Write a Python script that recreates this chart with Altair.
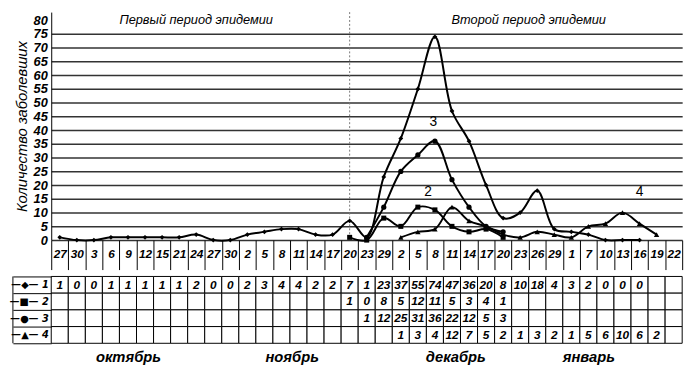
import json
import altair as alt
import pandas as pd

# ---------------- data ----------------
dates = ["27", "30", "3", "6", "9", "12", "15", "21", "24", "27", "30",
         "2", "5", "8", "11", "14", "17", "20", "23", "29",
         "2", "5", "8", "11", "14", "17", "20", "23", "26", "29",
         "1", "7", "10", "13", "16", "19", "22"]
series_names = ["1", "2", "3", "4"]
s1 = [1, 0, 0, 1, 1, 1, 1, 1, 2, 0, 0,
      2, 3, 4, 4, 2, 2, 7, 1, 23,
      37, 55, 74, 47, 36, 20, 8, 10, 18, 4,
      3, 2, 0, 0, 0, None, None]
s2 = [None] * 17 + [1, 0, 8, 5, 12, 11, 5, 3, 4, 1] + [None] * 10
s3 = [None] * 18 + [1, 12, 25, 31, 36, 22, 12, 5, 3] + [None] * 10
s4 = [None] * 20 + [1, 3, 4, 12, 7, 5, 2, 1, 3, 2, 1, 5, 6, 10, 6, 2] + [None]
row_symbols = ["—◆— 1", "—■— 2", "—●— 3", "—▲— 4"]
months = ["октябрь", "ноябрь", "декабрь", "январь"]
month_cols = [4.0, 13.6, 23.2, 31.0]
periods = ["Первый период эпидемии", "Второй период эпидемии"]
period_cols = [8.0, 27.5]
period_split_col = 17
curve_labels = ["3", "2", "4"]
curve_label_cols = [21.9, 21.6, 34.0]
curve_label_vals = [43, 17.5, 17.5]

# ---------------- layout / style ----------------
FONT = "Liberation Sans"
N = len(dates)
W = 642
H_PLOT = 232
H_DATE = 30
H_TABLE = 68
LABEL_COL = 39
step = W / N
series = [s1, s2, s3, s4]

pts = pd.DataFrame([
    {"i": i, "v": v, "s": name}
    for name, s in zip(series_names, series)
    for i, v in enumerate(s) if v is not None
])
cells = pd.DataFrame([
    {"i": i, "row": name, "txt": "" if v is None else str(v)}
    for name, s in zip(series_names, series)
    for i, v in enumerate(s)
])
period_df = pd.DataFrame({"i": period_cols, "v": [80, 80], "txt": periods})
curve_df = pd.DataFrame({"i": curve_label_cols, "v": curve_label_vals, "txt": curve_labels})
split_df = pd.DataFrame({"i": [period_split_col]})

xs = alt.Scale(domain=[-0.5, N - 0.5], nice=False, zero=False)

x_date_axis = alt.Axis(
    values=[i - 0.5 for i in range(N + 1)],
    labelExpr=f"{json.dumps(dates)}[datum.value + 0.5] || ''",
    tickSize=H_DATE, tickColor="black", tickWidth=1,
    labelOffset=step / 2, labelPadding=-21,
    domain=False, grid=False, labelAngle=0,
    labelFont=FONT, labelFontSize=12, labelFontWeight="bold", labelFontStyle="italic",
    labelColor="black", labelFlush=False, labelOverlap=False, title=None,
)
y_axis = alt.Axis(
    values=list(range(0, 81, 5)), grid=True, gridColor="#333", gridWidth=1.5,
    gridOpacity=alt.condition("datum.value >= 80", alt.value(0), alt.value(1)),
    ticks=False, domain=True, domainColor="black", domainWidth=1,
    labelFont=FONT, labelFontSize=13, labelFontWeight="bold", labelFontStyle="italic",
    labelColor="black", labelPadding=4, labelOverlap=False,
    title="Количество заболевших", titleFont=FONT, titleFontSize=15,
    titleFontStyle="italic", titleFontWeight="normal", titleColor="black",
    titlePadding=2, minExtent=20, maxExtent=20,
)
X = alt.X("i:Q", scale=xs, axis=x_date_axis)
Y = alt.Y("v:Q", scale=alt.Scale(domain=[0, 83], nice=False), axis=y_axis)

spacer = alt.Chart(split_df).mark_rule(color="white").encode(x=alt.value(-LABEL_COL))
split = alt.Chart(split_df).mark_rule(color="#777", strokeWidth=1, strokeDash=[2, 2]).encode(x=X)
lines = alt.Chart(pts).mark_line(interpolate="catmull-rom", color="black", strokeWidth=2).encode(
    x=X, y=Y, detail="s:N")
points = alt.Chart(pts).mark_point(filled=True, color="black", opacity=1).encode(
    x=X, y=Y,
    shape=alt.Shape("s:N", scale=alt.Scale(domain=series_names,
                                           range=["diamond", "square", "circle", "triangle-up"]),
                    legend=None),
    size=alt.Size("s:N", scale=alt.Scale(domain=series_names, range=[24, 30, 32, 36]), legend=None),
)
period_text = alt.Chart(period_df).mark_text(
    font=FONT, fontSize=13, fontStyle="italic", color="black", baseline="middle").encode(
    x=X, y=Y, text="txt:N")
curve_text = alt.Chart(curve_df).mark_text(
    font=FONT, fontSize=14, color="black", baseline="middle").encode(
    x=X, y=Y, text="txt:N")

top = alt.layer(spacer, split, lines, points, period_text, curve_text).properties(
    width=W, height=H_PLOT)

# ---------------- table ----------------
month_axis = alt.Axis(
    values=month_cols,
    labelExpr=f"{json.dumps(months, ensure_ascii=False)}[indexof({json.dumps(month_cols)}, datum.value)]",
    ticks=False, domain=False, grid=False, labelPadding=7, labelAngle=0,
    labelFont=FONT, labelFontSize=15, labelFontWeight="bold", labelFontStyle="italic",
    labelColor="black", labelFlush=False, labelOverlap=False, title=None,
)
row_map = json.dumps(dict(zip(series_names, row_symbols)), ensure_ascii=False)
row_axis = alt.Axis(
    ticks=True, tickBand="extent", tickSize=LABEL_COL, tickColor="black", tickWidth=1,
    domain=False, grid=False, labelExpr=f"{row_map}[datum.value]",
    labelPadding=-(LABEL_COL - 3), labelAlign="right", labelBaseline="middle",
    labelFont="DejaVu Sans", labelFontSize=10, labelFontWeight="bold", labelFontStyle="italic",
    labelColor="black", title=None,
)
TX = alt.X("x1:Q", scale=xs, axis=month_axis)
TY = alt.Y("row:O", scale=alt.Scale(domain=series_names, paddingInner=0, paddingOuter=0), axis=row_axis)

cbase = alt.Chart(cells).transform_calculate(x1="datum.i - 0.5", x2="datum.i + 0.5", xc="datum.i")
rects = cbase.mark_rect(fill="white", stroke="black", strokeWidth=1).encode(x=TX, x2="x2:Q", y=TY)
ctext = cbase.mark_text(font=FONT, fontSize=12, fontWeight="bold", fontStyle="italic",
                        color="black", baseline="middle").encode(
    x=alt.X("xc:Q", scale=xs, axis=month_axis), y=TY, text="txt:N")
left_border = alt.Chart(split_df).mark_rule(color="black", strokeWidth=1).encode(x=alt.value(-LABEL_COL))

table = alt.layer(rects, ctext, left_border).properties(width=W, height=H_TABLE)

chart = alt.vconcat(top, table, spacing=0).properties(
    padding=0, background="white"
).configure_view(stroke="transparent")

chart.save("out.html", embed_options={"renderer": "svg", "actions": False})
